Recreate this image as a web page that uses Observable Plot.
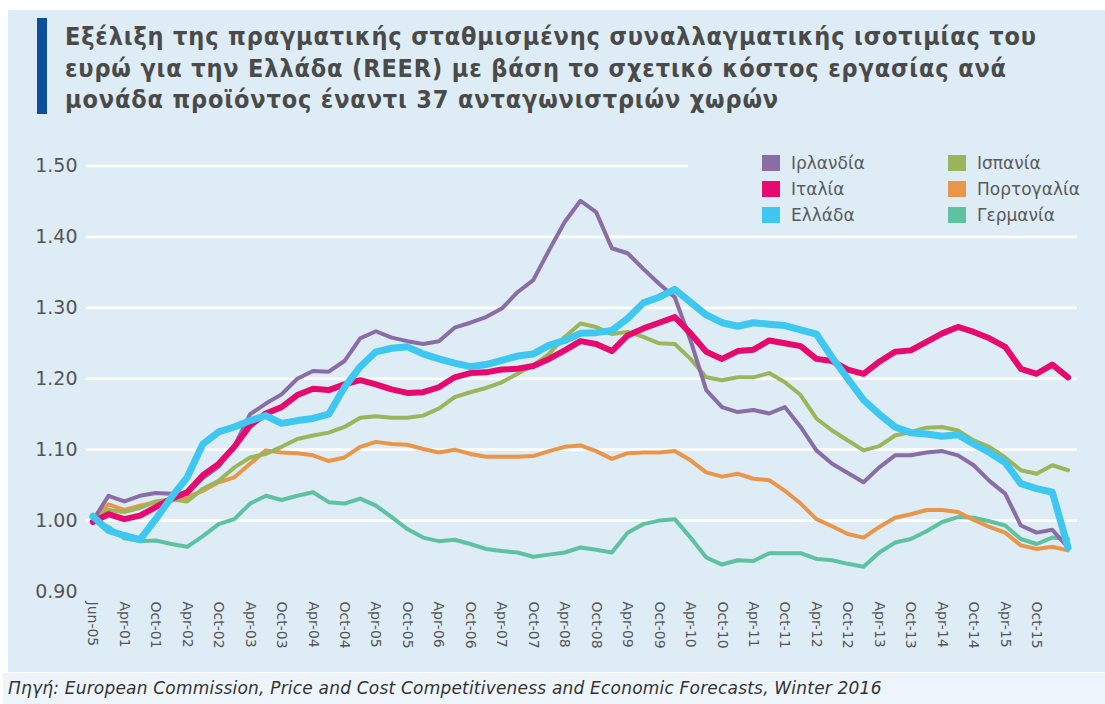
<!DOCTYPE html>
<html>
<head>
<meta charset="utf-8">
<script src="https://cdn.jsdelivr.net/npm/d3@7"></script>
<script src="https://cdn.jsdelivr.net/npm/@observablehq/plot@0.6"></script>
<style>
  html, body { margin: 0; padding: 0; background: #ffffff; }
  #page { position: relative; width: 1105px; height: 704px; overflow: hidden; background: #ffffff; }
  #panel { position: absolute; left: 8px; top: 10px; width: 1097px; height: 662px; background: #deecf5; }
  #bar { position: absolute; left: 37px; top: 18px; width: 10px; height: 96px; background: #0a4f9c; }
  #title { position: absolute; left: 65px; top: 21px; width: 1035px; font-family: "DejaVu Sans Condensed", "DejaVu Sans", sans-serif; font-weight: bold; font-size: 25px; line-height: 31.5px; color: #4a4a4a; letter-spacing: 0.85px; }
  #chart { position: absolute; left: 0; top: 130px; }
  #legend { position: absolute; left: 688px; top: 142px; width: 395px; height: 92px; background: #deecf5; font-family: "DejaVu Sans", sans-serif; font-size: 17px; color: #5a5a5a; }
  .item { position: absolute; height: 18px; line-height: 18px; white-space: nowrap; }
  .sw { display: inline-block; width: 18px; height: 16px; vertical-align: -2px; margin-right: 11px; }
  #caption { position: absolute; left: 3px; top: 673px; width: 1102px; height: 31px; background: #eef5fa; font-family: "DejaVu Sans", sans-serif; font-style: italic; font-size: 17px; line-height: 31px; color: #333; padding-left: 5px; box-sizing: border-box; letter-spacing: 0.2px; }
</style>
</head>
<body>
<div id="page">
  <div id="panel"></div>
  <div id="bar"></div>
  <div id="title">Εξέλιξη της πραγματικής σταθμισμένης συναλλαγματικής ισοτιμίας του<br>ευρώ για την Ελλάδα (REER) με βάση το σχετικό κόστος εργασίας ανά<br>μονάδα προϊόντος έναντι 37 ανταγωνιστριών χωρών</div>
  <div id="chart"></div>
  <div id="legend"></div>
  <div id="caption">Πηγή: European Commission, Price and Cost Competitiveness and Economic Forecasts, Winter 2016</div>
</div>
<script>
// Tick labels (every second quarter)
const tickLabels = ["Jun-05","Apr-01","Oct-01","Apr-02","Oct-02","Apr-03","Oct-03","Apr-04","Oct-04","Apr-05","Oct-05","Apr-06","Oct-06","Apr-07","Oct-07","Apr-08","Oct-08","Apr-09","Oct-09","Apr-10","Oct-10","Apr-11","Oct-11","Apr-12","Oct-12","Apr-13","Oct-13","Apr-14","Oct-14","Apr-15","Oct-15"];
const yTicks = [0.90, 1.00, 1.10, 1.20, 1.30, 1.40, 1.50];
const gridTicks = [1.00, 1.10, 1.20, 1.30, 1.40, 1.50];

const countries = ["Ιρλανδία","Ιταλία","Ελλάδα","Ισπανία","Πορτογαλία","Γερμανία"];
const colors = ["#8a6ca6","#e8096f","#3ec7f0","#9bb55b","#e9964a","#5ec2a0"];

const ireland = [1.000,1.035,1.027,1.035,1.039,1.038,1.038,1.060,1.076,1.105,1.150,1.165,1.178,1.200,1.211,1.210,1.225,1.257,1.267,1.258,1.253,1.249,1.253,1.272,1.279,1.287,1.299,1.322,1.339,1.381,1.421,1.451,1.435,1.384,1.377,1.355,1.334,1.315,1.254,1.184,1.160,1.153,1.156,1.151,1.160,1.132,1.099,1.080,1.067,1.054,1.075,1.092,1.092,1.096,1.098,1.092,1.078,1.056,1.038,0.993,0.983,0.987,0.962];
const italy = [0.998,1.009,1.002,1.007,1.019,1.031,1.040,1.064,1.080,1.104,1.134,1.151,1.160,1.177,1.186,1.184,1.192,1.198,1.192,1.185,1.180,1.181,1.188,1.202,1.208,1.209,1.213,1.214,1.218,1.228,1.240,1.253,1.249,1.239,1.261,1.271,1.279,1.287,1.264,1.238,1.228,1.239,1.241,1.254,1.250,1.246,1.228,1.225,1.213,1.207,1.224,1.238,1.240,1.252,1.264,1.273,1.266,1.257,1.245,1.214,1.207,1.220,1.202];
const greece = [1.006,0.986,0.979,0.973,1.002,1.033,1.061,1.108,1.125,1.132,1.141,1.148,1.137,1.141,1.144,1.150,1.188,1.217,1.238,1.243,1.245,1.235,1.228,1.222,1.217,1.220,1.226,1.232,1.235,1.247,1.254,1.264,1.265,1.268,1.285,1.307,1.315,1.326,1.308,1.290,1.279,1.274,1.279,1.277,1.275,1.269,1.263,1.230,1.200,1.170,1.150,1.132,1.124,1.122,1.119,1.121,1.108,1.096,1.082,1.052,1.045,1.040,0.962];
const spain = [1.000,1.015,1.012,1.018,1.027,1.030,1.027,1.045,1.056,1.075,1.089,1.094,1.104,1.115,1.120,1.124,1.132,1.145,1.147,1.145,1.145,1.148,1.158,1.174,1.181,1.187,1.195,1.207,1.219,1.235,1.259,1.278,1.273,1.263,1.266,1.259,1.250,1.249,1.228,1.202,1.198,1.202,1.202,1.208,1.195,1.177,1.144,1.127,1.113,1.099,1.105,1.120,1.125,1.131,1.132,1.127,1.113,1.104,1.089,1.071,1.066,1.078,1.071];
const portugal = [1.000,1.023,1.015,1.021,1.026,1.028,1.033,1.042,1.054,1.061,1.080,1.099,1.096,1.095,1.092,1.084,1.089,1.104,1.111,1.108,1.107,1.101,1.096,1.100,1.094,1.090,1.090,1.090,1.091,1.098,1.104,1.106,1.098,1.087,1.095,1.096,1.096,1.098,1.085,1.068,1.062,1.066,1.059,1.057,1.042,1.024,1.002,0.992,0.981,0.976,0.991,1.004,1.009,1.015,1.015,1.012,1.001,0.991,0.983,0.965,0.960,0.963,0.958];
const germany = [1.000,0.991,0.975,0.971,0.972,0.967,0.963,0.978,0.995,1.002,1.024,1.035,1.029,1.035,1.040,1.026,1.024,1.031,1.021,1.005,0.988,0.976,0.971,0.973,0.967,0.960,0.957,0.955,0.949,0.952,0.955,0.962,0.959,0.955,0.983,0.995,1.000,1.002,0.976,0.948,0.938,0.944,0.943,0.954,0.954,0.954,0.946,0.944,0.939,0.935,0.955,0.969,0.974,0.985,0.998,1.005,1.004,0.999,0.993,0.974,0.967,0.976,0.974];

const seriesValues = [ireland, italy, greece, spain, portugal, germany];
const widths = [4, 6, 7, 4, 4, 4];
// draw order: Germany, Portugal, Spain, Ireland, Italy, Greece (top)
const drawOrder = [5, 4, 3, 0, 1, 2];

const lineMarks = drawOrder.map(k =>
  Plot.line(seriesValues[k].map((v, i) => ({i, v})), {
    x: "i", y: "v", stroke: colors[k], strokeWidth: widths[k],
    strokeLinejoin: "round", strokeLinecap: "round"
  })
);

const chart = Plot.plot({
  width: 1105,
  height: 542,
  marginLeft: 86,
  marginRight: 28,
  marginTop: 35.5,
  marginBottom: 81,
  style: { background: "transparent", color: "#555", overflow: "visible" },
  x: { domain: [-0.4, 62.6] },
  y: { domain: [0.9, 1.5] },
  marks: [
    Plot.ruleY(gridTicks, { stroke: "#ffffff", strokeWidth: 2.6 }),
    Plot.axisY({ ticks: yTicks, tickFormat: d3.format(".2f"), tickSize: 0, tickPadding: 9, fontSize: 19, fontFamily: "DejaVu Sans", label: null }),
    Plot.axisX({ ticks: d3.range(0, 61, 2), tickFormat: d => tickLabels[d / 2], tickSize: 0, tickPadding: 10, tickRotate: 90, fontSize: 14, fontFamily: "DejaVu Sans", label: null }),
    ...lineMarks
  ]
});
document.getElementById("chart").appendChild(chart);

// Legend (two columns, three rows)
const legend = document.getElementById("legend");
const legendPos = [[74, 12], [74, 38], [74, 64], [260, 12], [260, 38], [260, 64]];
countries.forEach((c, k) => {
  const d = document.createElement("div");
  d.className = "item";
  d.style.left = legendPos[k][0] + "px";
  d.style.top = legendPos[k][1] + "px";
  d.innerHTML = `<span class="sw" style="background:${colors[k]}"></span>${c}`;
  legend.appendChild(d);
});
</script>
</body>
</html>
